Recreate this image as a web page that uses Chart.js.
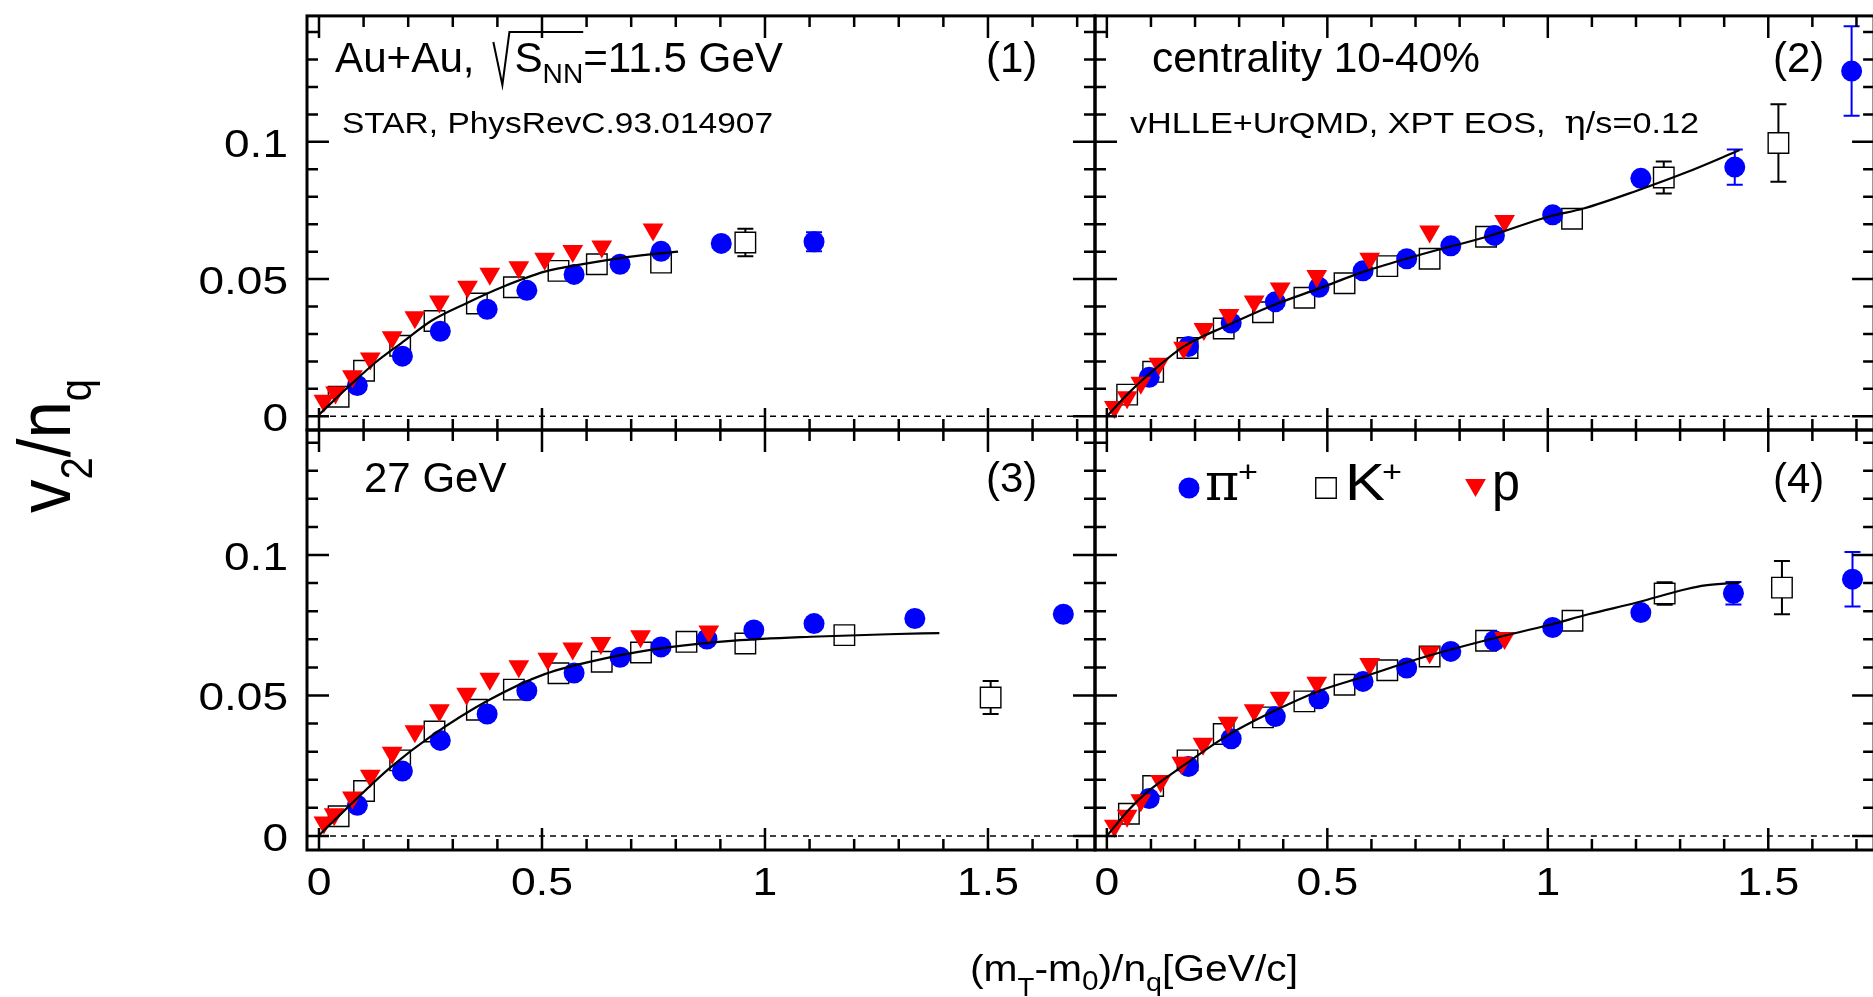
<!DOCTYPE html>
<html>
<head>
<meta charset="utf-8">
<title>v2/nq scaling</title>
<script src="https://cdn.jsdelivr.net/npm/chart.js@4.4.1/dist/chart.umd.min.js"></script>
<style>
  html, body { margin: 0; padding: 0; background: #fff; overflow: hidden; }
  #wrap { position: relative; width: 1873px; height: 997px; overflow: hidden; }
  #wrap canvas { position: absolute; left: 0; top: 0; }
</style>
</head>
<body>
<div id="wrap">
  <canvas id="c1" width="1890" height="997"></canvas>
  <canvas id="c2" width="1890" height="997"></canvas>
  <canvas id="c3" width="1890" height="997"></canvas>
  <canvas id="c4" width="1890" height="997"></canvas>
</div>
<script>
'use strict';

// Tick labels
const xTickValues = [0, 0.5, 1, 1.5];
const xTickLabels = ['0', '0.5', '1', '1.5'];
const yTickValues = [0, 0.05, 0.1];
const yTickLabels = ['0', '0.05', '0.1'];

// Points are [x, v2/nq, error] , error only where a bar is drawn
// Panel 1: Au+Au 11.5 GeV, STAR
const pion11 = [[0.086, 0.0112], [0.187, 0.0219], [0.272, 0.031], [0.377, 0.039], [0.466, 0.0459],
  [0.572, 0.0517], [0.675, 0.0554], [0.767, 0.0601], [0.902, 0.063], [1.11, 0.0636, 0.0035]];
const kaon11 = [[0.044, 0.0071], [0.101, 0.0166], [0.182, 0.0257], [0.259, 0.0347], [0.354, 0.0411],
  [0.437, 0.047], [0.537, 0.053], [0.623, 0.0554], [0.767, 0.056], [0.956, 0.0633, 0.005]];
const proton11 = [[0.011, 0.0057], [0.037, 0.0087], [0.075, 0.0146], [0.115, 0.0211], [0.164, 0.0288],
  [0.215, 0.0361], [0.27, 0.0418], [0.333, 0.0472], [0.383, 0.0519], [0.448, 0.0543], [0.506, 0.0574],
  [0.569, 0.0602], [0.634, 0.0619], [0.749, 0.0681]];
// vHLLE+UrQMD curve
const hydro11 = [[0, 0.0006], [0.069, 0.0112], [0.126, 0.0195], [0.184, 0.0266], [0.253, 0.0349],
  [0.333, 0.0414], [0.414, 0.0473], [0.506, 0.0527], [0.598, 0.0556], [0.69, 0.058], [0.805, 0.06]];

// Panel 2
const pion2 = [[0.096, 0.0142], [0.185, 0.0254], [0.282, 0.034], [0.382, 0.0417], [0.481, 0.047],
  [0.581, 0.053], [0.68, 0.0574], [0.78, 0.0621], [0.879, 0.0659], [1.011, 0.0734], [1.211, 0.0867],
  [1.424, 0.0908, 0.0064], [1.689, 0.1258, 0.0163]];
const kaon2 = [[0.046, 0.0079], [0.105, 0.0162], [0.183, 0.0249], [0.265, 0.032], [0.354, 0.0379],
  [0.448, 0.0432], [0.539, 0.0485], [0.636, 0.0547], [0.732, 0.0574], [0.86, 0.0654], [1.055, 0.072],
  [1.263, 0.087, 0.0058], [1.523, 0.0996, 0.0141]];
const proton2 = [[0.017, 0.0034], [0.046, 0.0069], [0.077, 0.0122], [0.118, 0.0191], [0.174, 0.025],
  [0.22, 0.0318], [0.277, 0.0369], [0.334, 0.0418], [0.393, 0.0466], [0.476, 0.0511], [0.596, 0.0574],
  [0.732, 0.0673], [0.902, 0.0712]];
const hydro2 = [[0, 0], [0.052, 0.0089], [0.096, 0.0154], [0.174, 0.0254], [0.273, 0.0331],
  [0.373, 0.0402], [0.483, 0.0467], [0.583, 0.0527], [0.705, 0.0586], [0.871, 0.0659], [1.003, 0.0728],
  [1.081, 0.0757], [1.202, 0.0822], [1.313, 0.0888], [1.435, 0.097]];

// Panel 3: 27 GeV
const pion27 = [[0.086, 0.0109], [0.187, 0.0231], [0.272, 0.034], [0.377, 0.0434], [0.466, 0.0517],
  [0.572, 0.058], [0.675, 0.0636], [0.767, 0.0673], [0.87, 0.0701], [0.975, 0.0733], [1.11, 0.0756],
  [1.336, 0.0774], [1.669, 0.0789]];
const kaon27 = [[0.044, 0.007], [0.101, 0.016], [0.182, 0.0269], [0.259, 0.0372], [0.354, 0.0449],
  [0.437, 0.0521], [0.537, 0.0579], [0.634, 0.062], [0.722, 0.0653], [0.824, 0.0691], [0.956, 0.0685],
  [1.178, 0.0715], [1.506, 0.0493, 0.0059]];
const proton27 = [[0.011, 0.0048], [0.034, 0.0077], [0.075, 0.0137], [0.115, 0.0214], [0.164, 0.0296],
  [0.215, 0.0373], [0.27, 0.0447], [0.331, 0.0506], [0.383, 0.056], [0.448, 0.0604], [0.513, 0.0631],
  [0.569, 0.0667], [0.632, 0.0687], [0.721, 0.0711], [0.874, 0.0728]];
const hydro27 = [[0, 0.0002], [0.069, 0.0109], [0.161, 0.0245], [0.253, 0.0357], [0.379, 0.0482],
  [0.506, 0.0576], [0.644, 0.0633], [0.782, 0.0671], [0.931, 0.0695], [1.103, 0.0709], [1.276, 0.0718],
  [1.391, 0.0722]];

// Panel 4
const pion4 = [[0.096, 0.0133], [0.185, 0.0247], [0.282, 0.0346], [0.382, 0.0425], [0.481, 0.0488],
  [0.581, 0.055], [0.68, 0.0598], [0.78, 0.0657], [0.879, 0.0695], [1.011, 0.0742], [1.211, 0.0795],
  [1.421, 0.0864, 0.004], [1.691, 0.0914, 0.0097]];
const kaon4 = [[0.05, 0.0079], [0.105, 0.0178], [0.183, 0.0269], [0.265, 0.0363], [0.354, 0.0422],
  [0.448, 0.0479], [0.539, 0.0538], [0.636, 0.059], [0.732, 0.0639], [0.86, 0.0695], [1.056, 0.0766],
  [1.265, 0.0863, 0.004], [1.531, 0.0884, 0.0095]];
const proton4 = [[0.017, 0.0036], [0.046, 0.0072], [0.077, 0.0127], [0.122, 0.0196], [0.17, 0.0261],
  [0.218, 0.0328], [0.275, 0.0403], [0.334, 0.0447], [0.393, 0.0492], [0.476, 0.0545], [0.596, 0.0612],
  [0.732, 0.0654], [0.902, 0.0705]];
const hydro4 = [[0, 0], [0.052, 0.0097], [0.096, 0.0162], [0.174, 0.0251], [0.273, 0.0357],
  [0.373, 0.044], [0.483, 0.0517], [0.583, 0.0567], [0.705, 0.063], [0.871, 0.0701], [1.003, 0.0751],
  [1.092, 0.0789], [1.202, 0.0831], [1.313, 0.0878], [1.357, 0.0892], [1.435, 0.0902]];

const SANS = '"Liberation Sans", Arial, Helvetica, sans-serif';
const SERIF = '"DejaVu Serif", "Liberation Serif", serif';
const W = 1890, H = 997;

function toXY(list) {
  return list.map(p => ({ x: p[0], y: p[1], e: p[2] || 0 }));
}

function makeDatasets(pion, kaon, proton, hydro) {
  return [
    { label: 'model', data: toXY(hydro), showLine: true, pointRadius: 0, borderColor: '#000',
      borderWidth: 2.2, cubicInterpolationMode: 'monotone', order: 0 },
    { label: 'p', data: toXY(proton), pointStyle: 'triangle', rotation: 180, pointRadius: 12,
      pointBackgroundColor: '#ff0000', pointBorderWidth: 0, order: 1 },
    { label: 'pi+', data: toXY(pion), pointStyle: 'circle', pointRadius: 10.5, errColor: '#0000ff',
      pointBackgroundColor: '#0000ff', pointBorderWidth: 0, order: 2 },
    { label: 'K+', data: toXY(kaon), pointStyle: 'rect', pointRadius: 14.5, errColor: '#000',
      pointBackgroundColor: '#fff', pointBorderColor: '#000', pointBorderWidth: 1.4, order: 3 }
  ];
}

// Text made of parts: [{t, size, dy, family}] or {rad: width, span: n} for a root sign
function drawParts(ctx, x, y, parts, width, rotate) {
  let total = 0;
  parts.forEach(pt => {
    if (pt.rad) {
      pt.w = pt.rad;
    } else {
      ctx.font = pt.size + 'px ' + (pt.family || SANS);
      pt.w = ctx.measureText(pt.t).width;
    }
    total += pt.w;
  });
  const sx = width ? width / total : 1;
  ctx.save();
  ctx.translate(x, y);
  if (rotate) ctx.rotate(-Math.PI / 2);
  ctx.scale(sx, 1);
  ctx.fillStyle = '#000';
  ctx.strokeStyle = '#000';
  ctx.textAlign = 'left';
  ctx.textBaseline = 'alphabetic';
  let cx = 0;
  parts.forEach((pt, i) => {
    if (pt.rad) {
      let over = 0;
      for (let j = i + 1; j <= i + pt.span; j++) over += parts[j].w;
      ctx.lineWidth = 2;
      ctx.beginPath();
      ctx.moveTo(cx + 7, -30);
      ctx.lineTo(cx + 16, 13);
      ctx.lineTo(cx + 23, -40);
      ctx.lineTo(cx + pt.w + over, -40);
      ctx.stroke();
    } else {
      ctx.font = pt.size + 'px ' + (pt.family || SANS);
      ctx.fillText(pt.t, cx, pt.dy || 0);
    }
    cx += pt.w;
  });
  ctx.restore();
}

function drawLabel(ctx, text, x, y, size, sx, align) {
  ctx.save();
  ctx.font = size + 'px ' + SANS;
  const w = ctx.measureText(text).width * sx;
  let left = x;
  if (align === 'right') left = x - w;
  if (align === 'center') left = x - w / 2;
  ctx.translate(left, y);
  ctx.scale(sx, 1);
  ctx.fillStyle = '#000';
  ctx.textAlign = 'left';
  ctx.textBaseline = 'alphabetic';
  ctx.fillText(text, 0, 0);
  ctx.restore();
}

const panels = [
  { id: 'c1', left: 307, right: 1095, top: 6, bottom: 430, yMax: 0.1459,
    sets: [pion11, kaon11, proton11, hydro11], yLabels: true,
    texts: [
      { x: 335, y: 72, width: 448, parts: [{ t: 'Au+Au, ', size: 42 }, { rad: 28, span: 2 },
        { t: 'S', size: 42 }, { t: 'NN', size: 28, dy: 11 }, { t: '=11.5 GeV', size: 42 }] },
      { x: 986, y: 72, parts: [{ t: '(1)', size: 42 }] },
      { x: 342, y: 133, width: 431, parts: [{ t: 'STAR, PhysRevC.93.014907', size: 30 }] }
    ] },
  { id: 'c2', left: 1095, right: 1883, top: 6, bottom: 430, yMax: 0.1459,
    sets: [pion2, kaon2, proton2, hydro2],
    texts: [
      { x: 1152, y: 72, width: 328, parts: [{ t: 'centrality 10-40%', size: 42 }] },
      { x: 1773, y: 72, parts: [{ t: '(2)', size: 42 }] },
      { x: 1130, y: 133, width: 569, parts: [{ t: 'vHLLE+UrQMD, XPT EOS,  ', size: 30 },
        { t: '\u03b7', size: 31, family: SERIF }, { t: '/s=0.12', size: 30 }] }
    ] },
  { id: 'c3', left: 307, right: 1095, top: 430, bottom: 850, yMax: 0.1445,
    sets: [pion27, kaon27, proton27, hydro27], xLabels: true, yLabels: true, titles: true,
    texts: [
      { x: 364, y: 492, parts: [{ t: '27 GeV', size: 42 }] },
      { x: 986, y: 492, parts: [{ t: '(3)', size: 42 }] }
    ] },
  { id: 'c4', left: 1095, right: 1883, top: 430, bottom: 850, yMax: 0.1445,
    sets: [pion4, kaon4, proton4, hydro4], xLabels: true, legend: true,
    texts: [
      { x: 1773, y: 493, parts: [{ t: '(4)', size: 42 }] }
    ] }
];

const xMin = -0.0269, xMax = 1.74, yMin = -0.005;

function panelPlugin(p) {
  return {
    id: 'frame_' + p.id,
    beforeDatasetsDraw(chart) {
      const ctx = chart.ctx, xs = chart.scales.x, ys = chart.scales.y, a = chart.chartArea;
      ctx.save();
      // dotted zero line
      ctx.strokeStyle = '#000';
      ctx.lineWidth = 1.6;
      ctx.setLineDash([6, 5]);
      const y0 = ys.getPixelForValue(0);
      ctx.beginPath();
      ctx.moveTo(xs.getPixelForValue(0), y0);
      ctx.lineTo(a.right, y0);
      ctx.stroke();
      ctx.setLineDash([]);
      // error bars
      chart.data.datasets.forEach(ds => {
        if (!ds.errColor) return;
        ctx.strokeStyle = ds.errColor;
        ctx.lineWidth = 2;
        ds.data.forEach(pt => {
          if (!pt.e) return;
          const px = xs.getPixelForValue(pt.x);
          const lo = ys.getPixelForValue(pt.y - pt.e);
          const hi = ys.getPixelForValue(pt.y + pt.e);
          ctx.beginPath();
          ctx.moveTo(px, lo); ctx.lineTo(px, hi);
          ctx.moveTo(px - 8, lo); ctx.lineTo(px + 8, lo);
          ctx.moveTo(px - 8, hi); ctx.lineTo(px + 8, hi);
          ctx.stroke();
        });
      });
      ctx.restore();
    },
    afterDraw(chart) {
      const ctx = chart.ctx, xs = chart.scales.x, ys = chart.scales.y, a = chart.chartArea;
      ctx.save();
      ctx.strokeStyle = '#000';
      ctx.lineWidth = 2.5;
      ctx.beginPath();
      // x ticks every 0.1, long every 0.5 (top and bottom, pointing in)
      for (let i = 0; i <= 17; i++) {
        const v = i / 10;
        if (v > xs.max) break;
        const px = xs.getPixelForValue(v);
        const len = i % 5 === 0 ? 22 : 11;
        ctx.moveTo(px, a.bottom); ctx.lineTo(px, a.bottom - len);
        ctx.moveTo(px, a.top); ctx.lineTo(px, a.top + len);
      }
      // y ticks every 0.01, long every 0.05
      for (let i = 0; i <= 14; i++) {
        const v = i / 100;
        if (v > ys.max) break;
        const py = ys.getPixelForValue(v);
        const len = i % 5 === 0 ? 22 : 11;
        ctx.moveTo(a.left, py); ctx.lineTo(a.left + len, py);
        ctx.moveTo(a.right, py); ctx.lineTo(a.right - len, py);
      }
      ctx.stroke();
      ctx.lineWidth = 3;
      ctx.strokeRect(a.left, a.top, a.right - a.left, a.bottom - a.top);
      ctx.restore();

      if (p.yLabels) {
        yTickValues.forEach((v, i) => {
          drawLabel(ctx, yTickLabels[i], a.left - 19, ys.getPixelForValue(v) + 15, 39, 1.18, 'right');
        });
      }
      if (p.xLabels) {
        xTickValues.forEach((v, i) => {
          drawLabel(ctx, xTickLabels[i], xs.getPixelForValue(v), a.bottom + 45, 38, 1.17, 'center');
        });
      }
      p.texts.forEach(t => drawParts(ctx, t.x, t.y, t.parts, t.width));

      if (p.legend) {
        const dp = Chart.helpers.drawPoint;
        ctx.save();
        ctx.fillStyle = '#0000ff';
        dp(ctx, { pointStyle: 'circle', radius: 10.5, rotation: 0, borderWidth: 0 }, 1189, 488);
        ctx.fillStyle = '#fff';
        ctx.strokeStyle = '#000';
        ctx.lineWidth = 1.4;
        dp(ctx, { pointStyle: 'rect', radius: 14.5, rotation: 0, borderWidth: 1.4 }, 1326, 488);
        ctx.fillStyle = '#ff0000';
        dp(ctx, { pointStyle: 'triangle', radius: 12, rotation: 180, borderWidth: 0 }, 1475.5, 485);
        ctx.restore();
        drawParts(ctx, 1205, 500, [{ t: '\u03c0', size: 52, family: SERIF }]);
        drawParts(ctx, 1238, 482, [{ t: '+', size: 30 }], 20);
        drawParts(ctx, 1345, 500, [{ t: 'K', size: 51 }], 40);
        drawParts(ctx, 1382, 482, [{ t: '+', size: 30 }], 20);
        drawParts(ctx, 1492, 500, [{ t: 'p', size: 51 }], 28);
      }

      if (p.titles) {
        drawParts(ctx, 70, 513, [{ t: 'v', size: 74 }, { t: '2', size: 44, dy: 22 },
          { t: '/', size: 74 }, { t: 'n', size: 74 }, { t: 'q', size: 44, dy: 21 }], 134, true);
        drawParts(ctx, 970, 981, [{ t: '(m', size: 37 }, { t: 'T', size: 25, dy: 15 },
          { t: '-m', size: 37 }, { t: '0', size: 27, dy: 9 }, { t: ')/n', size: 37 },
          { t: 'q', size: 26, dy: 10 }, { t: '[GeV/c]', size: 37 }], 328);
      }
    }
  };
}

panels.forEach(p => {
  new Chart(document.getElementById(p.id), {
    type: 'scatter',
    data: { datasets: makeDatasets(p.sets[0], p.sets[1], p.sets[2], p.sets[3]) },
    options: {
      responsive: false,
      animation: false,
      events: [],
      devicePixelRatio: 1,
      layout: { padding: { left: p.left, right: W - p.right, top: p.top, bottom: H - p.bottom } },
      plugins: { legend: { display: false }, tooltip: { enabled: false } },
      scales: {
        x: { type: 'linear', display: false, min: xMin, max: xMax },
        y: { type: 'linear', display: false, min: yMin, max: p.yMax }
      }
    },
    plugins: [panelPlugin(p)]
  });
});
</script>
</body>
</html>
